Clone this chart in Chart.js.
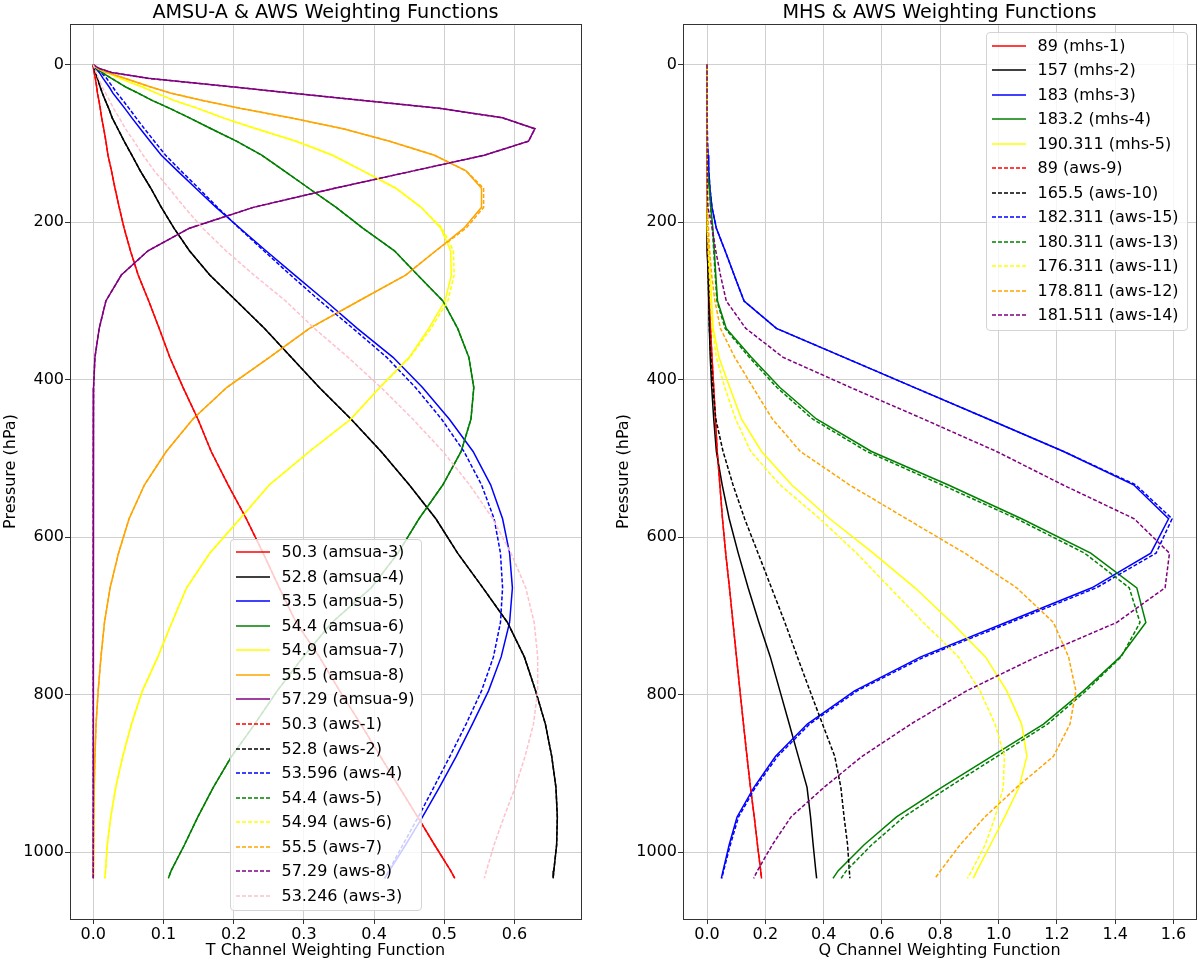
<!DOCTYPE html>
<html>
<head>
<meta charset="utf-8">
<script src="https://cdn.jsdelivr.net/npm/chart.js@4.4.1/dist/chart.umd.min.js"></script>
<style>
  body { margin: 0; background: #fff; }
  #page { position: relative; width: 1200px; height: 964px; overflow: hidden; font-family: 'DejaVu Sans', sans-serif; }
  .panel { position: absolute; top: 0; width: 600px; height: 964px; }
  .title { position: absolute; top: 0; height: 24px; line-height: 24px; text-align: center; font-size: 19.2px; color: #000; white-space: nowrap; }
  .legend { position: absolute; background: rgba(255,255,255,0.8); border: 1px solid #d4d4d4; border-radius: 4px; box-sizing: border-box; }
  .legend .row { position: absolute; height: 24px; line-height: 24px; white-space: nowrap; font-size: 16px; color: #000; }
  .legend svg { position: absolute; top: 0; }
</style>
</head>
<body>
<div id="page">
  <div class="panel" style="left:0"><canvas id="left" width="600" height="964"></canvas></div>
  <div class="panel" style="left:600px"><canvas id="right" width="600" height="964"></canvas></div>
</div>
<script>
// pressure levels (hPa), shared by every curve
const pressure = [0.005, 1.08, 5.19, 9.84, 17.33, 28.69, 36.17, 45.04, 55.44, 67.51, 81.37, 97.15, 114.94, 134.83, 156.88, 181.14, 207.61, 236.28, 267.10, 300.00, 334.86, 371.55, 409.94, 449.86, 491.08, 533.37, 576.50, 620.19, 664.18, 708.18, 751.88, 794.98, 837.17, 878.12, 917.52, 955.05, 990.39, 1023.24, 1033.00];

// left panel: temperature channels
const amsua3 = [0, 0, 0.0005, 0.0014, 0.003, 0.005, 0.006, 0.008, 0.010, 0.012, 0.015, 0.018, 0.021, 0.026, 0.031, 0.037, 0.044, 0.053, 0.064, 0.079, 0.094, 0.109, 0.128, 0.149, 0.168, 0.192, 0.218, 0.242, 0.265, 0.289, 0.322, 0.351, 0.381, 0.409, 0.436, 0.462, 0.486, 0.509, 0.515];
const amsua4 = [0, 0, 0.0014, 0.003, 0.006, 0.010, 0.013, 0.017, 0.022, 0.027, 0.035, 0.044, 0.055, 0.067, 0.082, 0.097, 0.115, 0.137, 0.166, 0.204, 0.244, 0.282, 0.322, 0.367, 0.410, 0.450, 0.488, 0.519, 0.555, 0.590, 0.614, 0.630, 0.644, 0.653, 0.659, 0.661, 0.660, 0.656, 0.655];
const amsua5 = [0, 0.001, 0.004, 0.0085, 0.014, 0.023, 0.028, 0.036, 0.045, 0.055, 0.067, 0.081, 0.097, 0.120, 0.146, 0.175, 0.209, 0.246, 0.287, 0.331, 0.376, 0.427, 0.469, 0.507, 0.541, 0.566, 0.583, 0.593, 0.597, 0.593, 0.581, 0.563, 0.540, 0.517, 0.493, 0.469, 0.445, 0.422, 0.415];
const amsua6 = [0, 0.001, 0.005, 0.012, 0.026, 0.047, 0.064, 0.083, 0.109, 0.137, 0.168, 0.204, 0.240, 0.272, 0.307, 0.346, 0.384, 0.429, 0.462, 0.498, 0.519, 0.535, 0.542, 0.538, 0.524, 0.498, 0.464, 0.434, 0.396, 0.340, 0.299, 0.262, 0.230, 0.197, 0.171, 0.149, 0.130, 0.111, 0.107];
const amsua7 = [0, 0.001, 0.007, 0.019, 0.038, 0.071, 0.090, 0.114, 0.149, 0.185, 0.232, 0.289, 0.341, 0.384, 0.431, 0.467, 0.495, 0.509, 0.510, 0.501, 0.478, 0.450, 0.408, 0.367, 0.308, 0.251, 0.209, 0.166, 0.133, 0.112, 0.092, 0.070, 0.0545, 0.042, 0.032, 0.025, 0.020, 0.0175, 0.0166];
const amsua8 = [0, 0.001, 0.007, 0.019, 0.045, 0.083, 0.111, 0.154, 0.209, 0.281, 0.356, 0.422, 0.486, 0.531, 0.553, 0.553, 0.528, 0.488, 0.445, 0.378, 0.308, 0.251, 0.190, 0.142, 0.104, 0.073, 0.051, 0.036, 0.024, 0.016, 0.011, 0.007, 0.004, 0.0024, 0.0014, 0.0008, 0.0004, 0.0002, 0.0001];
const amsua9 = [0, 0.002, 0.0095, 0.026, 0.078, 0.204, 0.284, 0.381, 0.493, 0.583, 0.629, 0.620, 0.557, 0.456, 0.344, 0.228, 0.137, 0.078, 0.040, 0.018, 0.0085, 0.0024, 0.0005, 0.0002, 0.0001, 0, 0, 0, 0, 0, 0, 0, 0, 0, 0, 0, 0, 0, 0];
const aws1 = [0, 0, 0.0005, 0.0014, 0.003, 0.005, 0.006, 0.008, 0.010, 0.012, 0.015, 0.018, 0.021, 0.026, 0.031, 0.037, 0.044, 0.053, 0.064, 0.079, 0.094, 0.109, 0.128, 0.149, 0.168, 0.192, 0.218, 0.242, 0.265, 0.289, 0.322, 0.351, 0.381, 0.409, 0.436, 0.462, 0.486, 0.509, 0.515];
const aws2 = [0, 0, 0.0014, 0.003, 0.006, 0.010, 0.013, 0.017, 0.022, 0.027, 0.035, 0.044, 0.055, 0.067, 0.082, 0.097, 0.115, 0.137, 0.166, 0.204, 0.244, 0.282, 0.322, 0.367, 0.410, 0.450, 0.488, 0.519, 0.555, 0.590, 0.614, 0.630, 0.644, 0.653, 0.659, 0.661, 0.660, 0.656, 0.655];
const aws4 = [0, 0.001, 0.005, 0.011, 0.019, 0.028, 0.034, 0.042, 0.051, 0.061, 0.073, 0.087, 0.103, 0.125, 0.150, 0.177, 0.208, 0.243, 0.281, 0.323, 0.370, 0.418, 0.459, 0.496, 0.528, 0.553, 0.571, 0.580, 0.583, 0.580, 0.570, 0.553, 0.531, 0.508, 0.485, 0.463, 0.441, 0.421, 0.415];
const aws5 = [0, 0.001, 0.005, 0.012, 0.026, 0.047, 0.064, 0.083, 0.109, 0.137, 0.168, 0.204, 0.240, 0.272, 0.307, 0.346, 0.384, 0.429, 0.462, 0.498, 0.519, 0.535, 0.542, 0.538, 0.524, 0.498, 0.464, 0.434, 0.396, 0.340, 0.299, 0.262, 0.230, 0.197, 0.171, 0.149, 0.130, 0.111, 0.107];
const aws6 = [0, 0.001, 0.007, 0.019, 0.038, 0.071, 0.090, 0.114, 0.149, 0.185, 0.232, 0.289, 0.341, 0.384, 0.431, 0.467, 0.497, 0.513, 0.514, 0.505, 0.481, 0.451, 0.408, 0.367, 0.308, 0.251, 0.209, 0.166, 0.133, 0.112, 0.092, 0.070, 0.0545, 0.042, 0.032, 0.025, 0.020, 0.0175, 0.0166];
const aws7 = [0, 0.001, 0.007, 0.019, 0.045, 0.083, 0.111, 0.154, 0.209, 0.281, 0.356, 0.422, 0.486, 0.531, 0.556, 0.556, 0.531, 0.488, 0.445, 0.378, 0.308, 0.251, 0.190, 0.142, 0.104, 0.073, 0.051, 0.036, 0.024, 0.016, 0.011, 0.007, 0.004, 0.0024, 0.0014, 0.0008, 0.0004, 0.0002, 0.0001];
const aws8 = [0, 0.002, 0.0095, 0.026, 0.078, 0.204, 0.284, 0.381, 0.493, 0.583, 0.629, 0.620, 0.557, 0.456, 0.344, 0.228, 0.137, 0.078, 0.040, 0.018, 0.0085, 0.0024, 0.0005, 0.0002, 0.0001, 0, 0, 0, 0, 0, 0, 0, 0, 0, 0, 0, 0, 0, 0];
const aws3 = [0, 0.0005, 0.002, 0.004, 0.0075, 0.013, 0.0175, 0.023, 0.029, 0.037, 0.046, 0.058, 0.071, 0.087, 0.108, 0.130, 0.156, 0.189, 0.229, 0.274, 0.315, 0.363, 0.410, 0.455, 0.498, 0.536, 0.569, 0.595, 0.616, 0.628, 0.633, 0.633, 0.627, 0.615, 0.601, 0.585, 0.571, 0.560, 0.557];

// right panel: humidity channels
const mhs1 = [0, 0, 0, 0, 0, 0, 0, 0, 0, 0.0001, 0.0001, 0.0002, 0.0003, 0.0004, 0.0005, 0.001, 0.002, 0.003, 0.005, 0.008, 0.012, 0.017, 0.023, 0.029, 0.035, 0.044, 0.053, 0.064, 0.077, 0.089, 0.101, 0.113, 0.125, 0.137, 0.149, 0.162, 0.173, 0.184, 0.187];
const mhs2 = [0, 0, 0, 0, 0, 0, 0, 0, 0, 0.0001, 0.0002, 0.0003, 0.0004, 0.0006, 0.0008, 0.001, 0.002, 0.003, 0.004, 0.006, 0.008, 0.011, 0.016, 0.023, 0.032, 0.052, 0.076, 0.107, 0.141, 0.178, 0.217, 0.250, 0.282, 0.313, 0.343, 0.355, 0.364, 0.373, 0.376];
const mhs3 = [0, 0, 0, 0, 0, 0, 0, 0, 0.0002, 0.0005, 0.001, 0.002, 0.0035, 0.006, 0.010, 0.017, 0.032, 0.062, 0.093, 0.127, 0.238, 0.470, 0.712, 0.964, 1.223, 1.463, 1.583, 1.522, 1.320, 1.025, 0.733, 0.506, 0.344, 0.235, 0.161, 0.103, 0.076, 0.055, 0.049];
const mhs4 = [0, 0, 0, 0, 0, 0, 0, 0, 0, 0.0001, 0.0002, 0.0004, 0.0007, 0.002, 0.008, 0.013, 0.020, 0.025, 0.030, 0.036, 0.066, 0.152, 0.250, 0.375, 0.564, 0.826, 1.079, 1.316, 1.474, 1.505, 1.417, 1.291, 1.154, 0.976, 0.805, 0.650, 0.539, 0.450, 0.432];
const mhs5 = [0, 0, 0, 0, 0, 0, 0, 0, 0, 0, 0.0001, 0.0002, 0.0003, 0.0005, 0.0008, 0.001, 0.003, 0.006, 0.011, 0.016, 0.021, 0.041, 0.078, 0.118, 0.187, 0.290, 0.421, 0.570, 0.713, 0.839, 0.955, 1.028, 1.079, 1.097, 1.070, 1.021, 0.972, 0.926, 0.913];
const aws9 = [0, 0, 0, 0, 0, 0, 0, 0, 0, 0.0001, 0.0001, 0.0002, 0.0003, 0.0004, 0.0005, 0.001, 0.002, 0.003, 0.005, 0.008, 0.012, 0.017, 0.023, 0.029, 0.035, 0.044, 0.053, 0.064, 0.077, 0.089, 0.101, 0.113, 0.125, 0.137, 0.149, 0.162, 0.173, 0.184, 0.187];
const aws10 = [0, 0, 0, 0, 0, 0, 0, 0, 0, 0.0001, 0.0002, 0.0003, 0.0004, 0.0006, 0.0008, 0.001, 0.002, 0.003, 0.004, 0.006, 0.008, 0.013, 0.020, 0.030, 0.055, 0.089, 0.129, 0.175, 0.221, 0.267, 0.310, 0.353, 0.396, 0.438, 0.459, 0.470, 0.482, 0.488, 0.490];
const aws15 = [0, 0, 0, 0, 0, 0, 0, 0, 0.0002, 0.0005, 0.001, 0.002, 0.0035, 0.006, 0.010, 0.017, 0.032, 0.062, 0.093, 0.127, 0.238, 0.470, 0.712, 0.964, 1.223, 1.470, 1.595, 1.540, 1.335, 1.040, 0.745, 0.515, 0.352, 0.242, 0.166, 0.108, 0.080, 0.057, 0.051];
const aws13 = [0, 0, 0, 0, 0, 0, 0, 0, 0, 0.0001, 0.0002, 0.0004, 0.0007, 0.002, 0.008, 0.012, 0.018, 0.023, 0.028, 0.034, 0.062, 0.145, 0.240, 0.362, 0.548, 0.805, 1.062, 1.295, 1.448, 1.485, 1.420, 1.300, 1.168, 0.995, 0.828, 0.675, 0.565, 0.478, 0.460];
const aws11 = [0, 0, 0, 0, 0, 0, 0, 0, 0, 0, 0.0001, 0.0002, 0.0003, 0.0005, 0.0008, 0.001, 0.002, 0.004, 0.008, 0.012, 0.018, 0.032, 0.061, 0.098, 0.150, 0.250, 0.387, 0.513, 0.627, 0.742, 0.862, 0.936, 0.988, 1.020, 1.016, 0.988, 0.954, 0.908, 0.893];
const aws12 = [0, 0, 0, 0, 0, 0, 0, 0, 0, 0.0001, 0.0002, 0.0003, 0.0005, 0.0008, 0.001, 0.002, 0.005, 0.009, 0.016, 0.027, 0.046, 0.095, 0.158, 0.224, 0.320, 0.488, 0.684, 0.884, 1.062, 1.188, 1.240, 1.265, 1.245, 1.188, 1.062, 0.953, 0.868, 0.801, 0.782];
const aws14 = [0, 0, 0, 0, 0, 0, 0, 0, 0, 0.0001, 0.0002, 0.0003, 0.0005, 0.0008, 0.001, 0.003, 0.018, 0.030, 0.046, 0.066, 0.133, 0.261, 0.493, 0.742, 0.993, 1.220, 1.465, 1.586, 1.571, 1.405, 1.130, 0.890, 0.699, 0.532, 0.401, 0.288, 0.224, 0.173, 0.160];

// ticks
const pressureTicks = [0, 200, 400, 600, 800, 1000];
const tTicks = [0, 0.1, 0.2, 0.3, 0.4, 0.5, 0.6];
const qTicks = [0, 0.2, 0.4, 0.6, 0.8, 1.0, 1.2, 1.4, 1.6];

const leftSeries = [
  { label: '50.3 (amsua-3)', values: amsua3, color: 'red', dashed: false },
  { label: '52.8 (amsua-4)', values: amsua4, color: 'black', dashed: false },
  { label: '53.5 (amsua-5)', values: amsua5, color: 'blue', dashed: false },
  { label: '54.4 (amsua-6)', values: amsua6, color: 'green', dashed: false },
  { label: '54.9 (amsua-7)', values: amsua7, color: 'yellow', dashed: false },
  { label: '55.5 (amsua-8)', values: amsua8, color: 'orange', dashed: false },
  { label: '57.29 (amsua-9)', values: amsua9, color: 'purple', dashed: false },
  { label: '50.3 (aws-1)', values: aws1, color: 'red', dashed: true },
  { label: '52.8 (aws-2)', values: aws2, color: 'black', dashed: true },
  { label: '53.596 (aws-4)', values: aws4, color: 'blue', dashed: true },
  { label: '54.4 (aws-5)', values: aws5, color: 'green', dashed: true },
  { label: '54.94 (aws-6)', values: aws6, color: 'yellow', dashed: true },
  { label: '55.5 (aws-7)', values: aws7, color: 'orange', dashed: true },
  { label: '57.29 (aws-8)', values: aws8, color: 'purple', dashed: true },
  { label: '53.246 (aws-3)', values: aws3, color: 'pink', dashed: true }
];

const rightSeries = [
  { label: '89 (mhs-1)', values: mhs1, color: 'red', dashed: false },
  { label: '157 (mhs-2)', values: mhs2, color: 'black', dashed: false },
  { label: '183 (mhs-3)', values: mhs3, color: 'blue', dashed: false },
  { label: '183.2 (mhs-4)', values: mhs4, color: 'green', dashed: false },
  { label: '190.311 (mhs-5)', values: mhs5, color: 'yellow', dashed: false },
  { label: '89 (aws-9)', values: aws9, color: 'red', dashed: true },
  { label: '165.5 (aws-10)', values: aws10, color: 'black', dashed: true },
  { label: '182.311 (aws-15)', values: aws15, color: 'blue', dashed: true },
  { label: '180.311 (aws-13)', values: aws13, color: 'green', dashed: true },
  { label: '176.311 (aws-11)', values: aws11, color: 'yellow', dashed: true },
  { label: '178.811 (aws-12)', values: aws12, color: 'orange', dashed: true },
  { label: '181.511 (aws-14)', values: aws14, color: 'purple', dashed: true }
];

const DASH = [4, 2];
Chart.defaults.font.family = "'DejaVu Sans', sans-serif";
Chart.defaults.color = '#000';

const framePlugin = {
  id: 'frame',
  afterDraw(chart) {
    const { ctx, chartArea: a } = chart;
    ctx.save();
    ctx.strokeStyle = '#333';
    ctx.lineWidth = 1;
    ctx.strokeRect(Math.round(a.left) + 0.5, Math.round(a.top) + 0.5,
      Math.round(a.right - a.left), Math.round(a.bottom - a.top));
    ctx.restore();
  }
};

function makeChart(id, series, cfg) {
  const datasets = series.map((s, i) => ({
    label: s.label,
    data: pressure.map((p, k) => ({ x: s.values[k], y: p })),
    borderColor: s.color,
    backgroundColor: s.color,
    borderWidth: 1.5,
    borderDash: s.dashed ? DASH : [],
    pointRadius: 0,
    showLine: true,
    fill: false,
    tension: 0,
    order: series.length - i
  }));

  const chart = new Chart(document.getElementById(id), {
    type: 'scatter',
    data: { datasets: datasets },
    plugins: [framePlugin],
    options: {
      responsive: false,
      animation: false,
      layout: { padding: { left: 0, right: cfg.padRight, top: 24, bottom: 0 } },
      plugins: {
        legend: { display: false },
        tooltip: { enabled: false },
        title: { display: false }
      },
      scales: {
        x: {
          type: 'linear',
          min: cfg.xMin,
          max: cfg.xMax,
          afterBuildTicks: scale => { scale.ticks = cfg.xTicks.map(v => ({ value: v })); },
          afterFit: scale => { scale.height = 45; },
          ticks: { font: { size: 16 }, color: '#000', padding: 1, maxRotation: 0,
                   callback: v => Number(v).toFixed(1) },
          grid: { color: '#d0d0d0', lineWidth: 1, tickColor: '#333', tickLength: 5 },
          border: { display: false },
          title: { display: true, text: cfg.xTitle, font: { size: 16 }, color: '#000',
                   padding: { top: 0, bottom: 3.5 } }
        },
        y: {
          type: 'linear',
          reverse: true,
          min: -51.65,
          max: 1084.65,
          afterBuildTicks: scale => { scale.ticks = pressureTicks.map(v => ({ value: v })); },
          afterFit: scale => { scale.width = cfg.yWidth; },
          ticks: { font: { size: 16 }, color: '#000', padding: 1, callback: v => String(v) },
          grid: { color: '#d0d0d0', lineWidth: 1, tickColor: '#333', tickLength: 5 },
          border: { display: false },
          title: { display: true, text: 'Pressure (hPa)', font: { size: 16 }, color: '#000',
                   padding: { top: cfg.yTitlePad, bottom: 0 } }
        }
      }
    }
  });

  // panel title, centred over the plot area
  const a = chart.chartArea;
  const t = document.createElement('div');
  t.className = 'title';
  t.textContent = cfg.title;
  t.style.left = (cfg.offset + a.left) + 'px';
  t.style.width = (a.right - a.left) + 'px';
  document.getElementById('page').appendChild(t);
  return chart;
}

function makeLegend(series, box) {
  const div = document.createElement('div');
  div.className = 'legend';
  div.style.left = box.left + 'px';
  div.style.top = box.top + 'px';
  div.style.width = box.width + 'px';
  div.style.height = box.height + 'px';
  series.forEach((s, i) => {
    const row = document.createElement('div');
    row.className = 'row';
    const cy = box.firstRow + i * box.step - box.top;
    row.style.top = (cy - 12 - 1) + 'px';
    row.style.left = '0px';
    row.style.width = (box.width - 2) + 'px';
    const svg = document.createElementNS('http://www.w3.org/2000/svg', 'svg');
    svg.setAttribute('width', '34');
    svg.setAttribute('height', '24');
    svg.style.left = '4.5px';
    const line = document.createElementNS('http://www.w3.org/2000/svg', 'line');
    line.setAttribute('x1', '0'); line.setAttribute('x2', '34');
    line.setAttribute('y1', '12'); line.setAttribute('y2', '12');
    line.setAttribute('stroke', s.color);
    line.setAttribute('stroke-width', '1.5');
    if (s.dashed) line.setAttribute('stroke-dasharray', DASH.join(' '));
    svg.appendChild(line);
    row.appendChild(svg);
    const txt = document.createElement('span');
    txt.textContent = s.label;
    txt.style.position = 'absolute';
    txt.style.left = '50.5px';
    row.appendChild(txt);
    div.appendChild(row);
  });
  document.getElementById('page').appendChild(div);
}

makeChart('left', leftSeries, {
  title: 'AMSU-A & AWS Weighting Functions',
  xTitle: 'T Channel Weighting Function',
  xMin: -0.0331, xMax: 0.6947, xTicks: tTicks,
  yWidth: 70, yTitlePad: 1.5, padRight: 19, offset: 0
});
makeChart('right', rightSeries, {
  title: 'MHS & AWS Weighting Functions',
  xTitle: 'Q Channel Weighting Function',
  xMin: -0.0824, xMax: 1.677, xTicks: qTicks,
  yWidth: 83, yTitlePad: 14.4, padRight: 4, offset: 600
});

makeLegend(leftSeries, { left: 230, top: 539, width: 192, height: 372, firstRow: 552.3, step: 24.53 });
makeLegend(rightSeries, { left: 986, top: 32, width: 202, height: 299, firstRow: 45.7, step: 24.48 });
</script>
</body>
</html>
